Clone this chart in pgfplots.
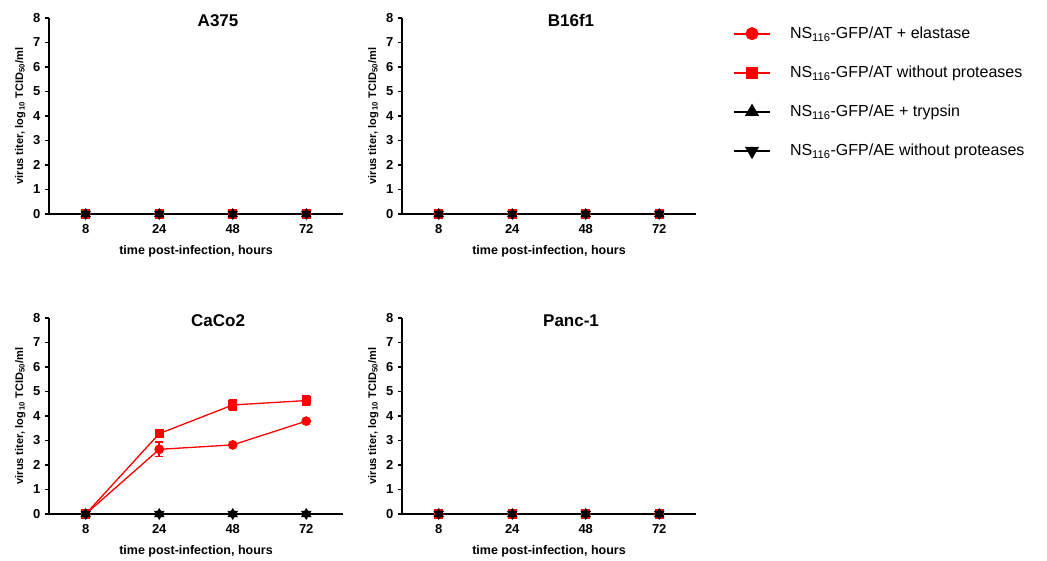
\documentclass[border=0pt]{standalone}
\usepackage{pgfplots}
\pgfplotsset{compat=1.18}
\usepackage{fontspec}
\setmainfont{Liberation Sans}

\pgfplotsset{
  panel/.style={
    scale only axis, width=294pt, height=196pt,
    anchor=south west,
    xmin=-0.5, xmax=3.5, ymin=0, ymax=8,
    axis lines*=left,
    axis line style={line width=1.5pt},
    every tick/.style={black, line width=1.3pt},
    tick align=outside, major tick length=4pt,
    xtick={0,1,2,3}, xticklabels={8,24,48,72},
    ytick={0,...,8},
    /pgf/number format/assume math mode=true,
    ticklabel style={font=\bfseries\fontsize{13}{13}\selectfont},
    xticklabel style={yshift=-3pt},
    yticklabel style={xshift=-1pt},
    xlabel={time post-infection, hours},
    xlabel style={font=\bfseries\fontsize{12.5}{12.5}\selectfont, yshift=-5pt},
    ylabel={virus titer, log\,\textsubscript{10} TCID\textsubscript{50}/ml},
    ylabel style={font=\bfseries\fontsize{11}{11}\selectfont, yshift=1pt},
    every axis title shift=0pt,
    title style={font=\bfseries\fontsize{17}{17}\selectfont, at={(0.575,0.987)}, anchor=center},
    clip=false,
    legend cell align=left,
  },
  s1/.style={red, line width=1.3pt, mark=*, mark size=4.2pt},
  s2/.style={red, line width=1.3pt, mark=square*, mark size=4pt},
  s3/.style={black, line width=1.3pt, mark=triangle*, mark size=4.8pt},
  s4/.style={black, line width=1.3pt, mark=triangle*, mark size=4.8pt, mark options={rotate=180}},
  eb/.style={error bars/.cd, y dir=both, y explicit,
    error bar style={line width=1.5pt},
    error mark options={rotate=90, mark size=4pt, line width=1.5pt}},
}

\begin{document}
\begin{tikzpicture}
\useasboundingbox (0,0) rectangle (1047pt,561pt);

% A375
\begin{axis}[panel, at={(49pt,347pt)}, title={A375}]
\addplot[s1] coordinates {(0,0) (1,0) (2,0) (3,0)};
\addplot[s2] coordinates {(0,0) (1,0) (2,0) (3,0)};
\addplot[s3] coordinates {(0,0) (1,0) (2,0) (3,0)};
\addplot[s4] coordinates {(0,0) (1,0) (2,0) (3,0)};
\end{axis}

% B16f1 (holds the legend)
\begin{axis}[panel, at={(402pt,347pt)}, title={B16f1},
  legend style={at={(1.115,0.975)}, anchor=north west, draw=none, fill=none,
    font=\fontsize{16}{16}\selectfont, row sep=22pt,
    /tikz/every odd column/.append style={column sep=17pt}},
  legend image code/.code={\draw[line width=2pt, mark repeat=2, mark phase=2,
    every mark/.append style={scale=1.3}]
    plot coordinates {(0pt,0pt) (18pt,0pt) (36pt,0pt)};}]
\addplot[s1] coordinates {(0,0) (1,0) (2,0) (3,0)};
\addlegendentry{NS\textsubscript{116}-GFP/AT + elastase}
\addplot[s2] coordinates {(0,0) (1,0) (2,0) (3,0)};
\addlegendentry{NS\textsubscript{116}-GFP/AT without proteases}
\addplot[s3] coordinates {(0,0) (1,0) (2,0) (3,0)};
\addlegendentry{NS\textsubscript{116}-GFP/AE + trypsin}
\addplot[s4] coordinates {(0,0) (1,0) (2,0) (3,0)};
\addlegendentry{NS\textsubscript{116}-GFP/AE without proteases}
\end{axis}

% CaCo2
\begin{axis}[panel, at={(49pt,47pt)}, title={CaCo2}]
\addplot[s1, eb] coordinates {(0,0) +- (0,0) (1,2.64) +- (0,0.3) (2,2.82) +- (0,0.05) (3,3.79) +- (0,0.05)};
\addplot[s2, eb] coordinates {(0,0) +- (0,0) (1,3.28) +- (0,0.08) (2,4.45) +- (0,0.2) (3,4.63) +- (0,0.18)};
\addplot[s3] coordinates {(0,0) (1,0) (2,0) (3,0)};
\addplot[s4] coordinates {(0,0) (1,0) (2,0) (3,0)};
\end{axis}

% Panc-1
\begin{axis}[panel, at={(402pt,47pt)}, title={Panc-1}]
\addplot[s1] coordinates {(0,0) (1,0) (2,0) (3,0)};
\addplot[s2] coordinates {(0,0) (1,0) (2,0) (3,0)};
\addplot[s3] coordinates {(0,0) (1,0) (2,0) (3,0)};
\addplot[s4] coordinates {(0,0) (1,0) (2,0) (3,0)};
\end{axis}
\end{tikzpicture}
\end{document}
